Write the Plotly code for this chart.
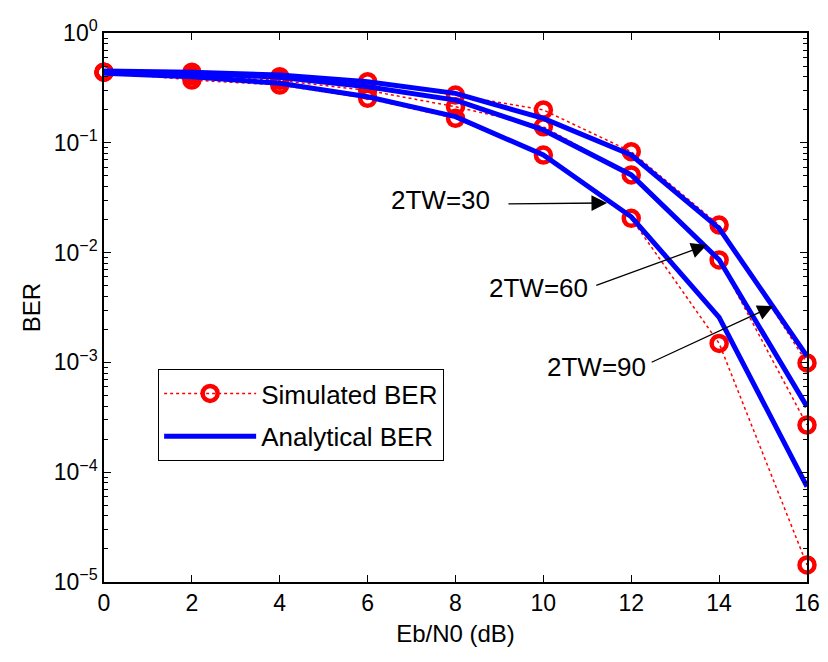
import plotly.graph_objects as go

ebn0 = [0, 2, 4, 6, 8, 10, 12, 14, 16]

sim_tw30 = [0.44, 0.373, 0.336, 0.254, 0.167, 0.0774, 0.0205, 0.00149, 1.43e-5]
sim_tw60 = [0.44, 0.41, 0.37, 0.30, 0.213, 0.140, 0.051, 0.00857, 0.000269]
sim_tw90 = [0.44, 0.44, 0.40, 0.36, 0.272, 0.199, 0.083, 0.0178, 0.00099]

ana_tw30 = [0.43, 0.40, 0.348, 0.263, 0.173, 0.0774, 0.0212, 0.00257, 7.4e-5]
ana_tw60 = [0.44, 0.43, 0.395, 0.324, 0.245, 0.131, 0.051, 0.0086, 0.000395]
ana_tw90 = [0.45, 0.44, 0.414, 0.36, 0.282, 0.167, 0.0774, 0.0166, 0.00114]

x_ticks = [0, 2, 4, 6, 8, 10, 12, 14, 16]
y_tick_vals = [1e-5, 1e-4, 1e-3, 1e-2, 1e-1, 1]
y_tick_text = ["10<sup>\u22125</sup>", "10<sup>\u22124</sup>", "10<sup>\u22123</sup>",
               "10<sup>\u22122</sup>", "10<sup>\u22121</sup>", "10<sup>0</sup>"]
minor_vals = [m * 10.0 ** e for e in range(-5, 0) for m in range(2, 10)]

labels = ["2TW=30", "2TW=60", "2TW=90"]
# (text x, text log10 y, arrow tail x, tail log y, tip x, tip log y)
label_pos = [
    (7.66, -1.52, 9.17, -1.557, 11.45, -1.548),
    (9.90, -2.32, 11.17, -2.304, 13.72, -1.931),
    (11.20, -3.04, 12.43, -3.005, 15.23, -2.486),
]

RED = "rgb(255,0,0)"
BLUE = "rgb(0,0,255)"
FONT = "Liberation Sans, Arial, sans-serif"

fig = go.Figure()

for i, s in enumerate([sim_tw30, sim_tw60, sim_tw90]):
    fig.add_trace(go.Scatter(
        x=ebn0, y=s, mode="lines+markers", name="Simulated BER",
        legendgroup="sim", showlegend=(i == 0), cliponaxis=False,
        line=dict(color=RED, width=1.5, dash="dot"),
        marker=dict(symbol="circle-open", size=15, color=RED, line=dict(width=4.5, color=RED)),
    ))

for i, a in enumerate([ana_tw30, ana_tw60, ana_tw90]):
    fig.add_trace(go.Scatter(
        x=ebn0, y=a, mode="lines", name="Analytical BER",
        legendgroup="ana", showlegend=(i == 0),
        line=dict(color=BLUE, width=5),
    ))

annotations = []
for lab, (tx, ty, ax, ay, hx, hy) in zip(labels, label_pos):
    annotations.append(dict(x=tx, y=ty, xref="x", yref="y", text=lab, showarrow=False,
                            font=dict(family=FONT, size=26, color="black")))
    annotations.append(dict(x=hx, y=hy, xref="x", yref="y", ax=ax, ay=ay,
                            axref="x", ayref="y", text="", showarrow=True,
                            arrowhead=2, arrowsize=2.4, arrowwidth=1.3, arrowcolor="black"))

fig.update_layout(
    width=828, height=662,
    margin=dict(l=104, r=21, t=33, b=80),
    paper_bgcolor="white", plot_bgcolor="white",
    font=dict(family=FONT, size=23, color="black"),
    showlegend=True,
    legend=dict(x=0.077, y=0.388, xanchor="left", yanchor="top",
                bgcolor="white", bordercolor="black", borderwidth=1,
                font=dict(family=FONT, size=26, color="black"),
                itemwidth=92, tracegroupgap=6),
    annotations=annotations,
    xaxis=dict(
        range=[0, 16], tickvals=x_ticks, ticks="inside", ticklen=7, tickwidth=1,
        tickcolor="black", showline=True, linecolor="black", linewidth=1.5,
        mirror="ticks", showgrid=False, zeroline=False, automargin=False,
        title=dict(text="Eb/N0 (dB)", font=dict(size=24), standoff=10),
        tickfont=dict(size=23),
    ),
    yaxis=dict(
        type="log", range=[-5, 0], tickvals=y_tick_vals, ticktext=y_tick_text,
        ticks="inside", ticklen=7, tickwidth=1, tickcolor="black",
        showline=True, linecolor="black", linewidth=1.5, mirror="ticks",
        showgrid=False, zeroline=False, automargin=False,
        minor=dict(tickvals=minor_vals, ticks="inside", ticklen=4, tickcolor="black", showgrid=False),
        title=dict(text="BER", font=dict(size=24), standoff=6),
        tickfont=dict(size=23),
    ),
)

fig.write_html(
    "out.html",
    config={"displayModeBar": False},
    post_script="document.body.style.margin='0';document.body.style.overflow='hidden';",
)
